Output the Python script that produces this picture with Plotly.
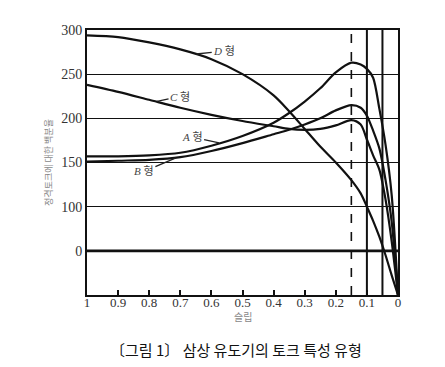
import plotly.graph_objects as go
import numpy as np

# slip values (x) shared by all curves
slip = [1.0, 0.9, 0.8, 0.7, 0.6, 0.5, 0.4, 0.35, 0.3, 0.25, 0.2, 0.15, 0.12, 0.1, 0.08, 0.06, 0.04, 0.02, 0.0]
torque_A = [157, 157, 158, 161, 169, 180, 195, 206, 219, 234, 252, 263, 261, 256, 246, 211, 170, 112, 0]
torque_B = [151, 152, 153, 156, 163, 172, 182, 187, 193, 200, 209, 215, 212, 203, 186, 166, 130, 82, 0]
torque_C = [238, 230, 221, 212, 204, 197, 191, 188, 187, 188, 192, 198, 193, 176, 158, 142, 108, 60, 0]
torque_D = [294, 292, 286, 278, 267, 250, 226, 208, 188, 168, 150, 130, 115, 100, 84, 66, 45, 22, 0]

series_names = ["A", "B", "C", "D"]
series_values = [torque_A, torque_B, torque_C, torque_D]
label_anchor_slip = [0.572, 0.711, 0.778, 0.652]

x_tickvals = [1, 0.9, 0.8, 0.7, 0.6, 0.5, 0.4, 0.3, 0.2, 0.1, 0]
x_ticktext = ["1", "0.9", "0.8", "0.7", "0.6", "0.5", "0.4", "0.3", "0.2", "0.1", "0"]
y_tickvals = [50, 100, 150, 200, 250, 300]
y_ticktext = ["0", "100", "150", "200", "250", "300"]
ref_slips_solid = [0.1, 0.05]
ref_slip_dashed = 0.15
thick_grid_value = 50

y_title = "정격토크에 대한 백분율"
x_title = "슬립"
caption = "〔그림 1〕 삼상 유도기의 토크 특성 유형"

fig = go.Figure()
for name, vals in zip(series_names, series_values):
    fig.add_trace(go.Scatter(x=slip, y=vals, mode="lines", name=name,
                             line=dict(color="#111111", width=2.2, shape="spline", smoothing=0.8),
                             showlegend=False, hoverinfo="skip"))

fig.add_hline(y=thick_grid_value, line=dict(color="#111111", width=2.6))
fig.add_vline(x=ref_slip_dashed, line=dict(color="#111111", width=1.6, dash="dash"))
for s in ref_slips_solid:
    fig.add_vline(x=s, line=dict(color="#111111", width=2))

# label offsets (pixels)
offsets = {"A": (-28, -6), "B": (-33, 14), "C": (24, -5), "D": (29, -3)}
for name, vals, s in zip(series_names, series_values, label_anchor_slip):
    yv = float(np.interp(s, slip[::-1], vals[::-1]))
    ax, ay = offsets[name]
    fig.add_annotation(x=s, y=yv, ax=ax, ay=ay, xref="x", yref="y",
                       text=f"<i>{name}</i> 형", showarrow=True, arrowhead=0,
                       arrowwidth=1.3, arrowcolor="#222222", standoff=1,
                       font=dict(family="Liberation Serif, Noto Sans CJK KR", size=11, color="#444444"))

# x-axis title placed just below tick labels
fig.add_annotation(x=0.5, y=0, xref="paper", yref="paper", showarrow=False,
                   yanchor="middle", yshift=-21, text=x_title,
                   font=dict(family="Noto Sans CJK KR", size=10, color="#888888"))

fig.add_annotation(x=0.48, y=-0.2075, xref="paper", yref="paper", showarrow=False,
                   yanchor="middle", text=caption,
                   font=dict(family="Noto Sans CJK KR", size=15, color="#111111"))

fig.update_xaxes(range=[1, 0], tickvals=x_tickvals, ticktext=x_ticktext,
                 showgrid=False, zeroline=False, showline=True, mirror=True,
                 linecolor="#111111", linewidth=2, ticks="inside", ticklen=5,
                 tickcolor="#111111", tickwidth=2, ticklabelstandoff=-6,
                 tickfont=dict(family="Liberation Serif", size=13, color="#333333"))
fig.update_yaxes(range=[0, 300], tickvals=y_tickvals, ticktext=y_ticktext,
                 showgrid=True, gridcolor="#111111", gridwidth=1.4, zeroline=False,
                 showline=True, mirror=True, linecolor="#111111", linewidth=2,
                 ticks="", tickfont=dict(family="Liberation Serif", size=14, color="#333333"),
                 title=dict(text=y_title, standoff=7,
                            font=dict(family="Noto Sans CJK KR", size=9, color="#888888")))

fig.update_layout(width=437, height=359, margin=dict(l=79, r=47, t=22, b=72),
                  plot_bgcolor="white", paper_bgcolor="white")
fig.write_html("out.html")
